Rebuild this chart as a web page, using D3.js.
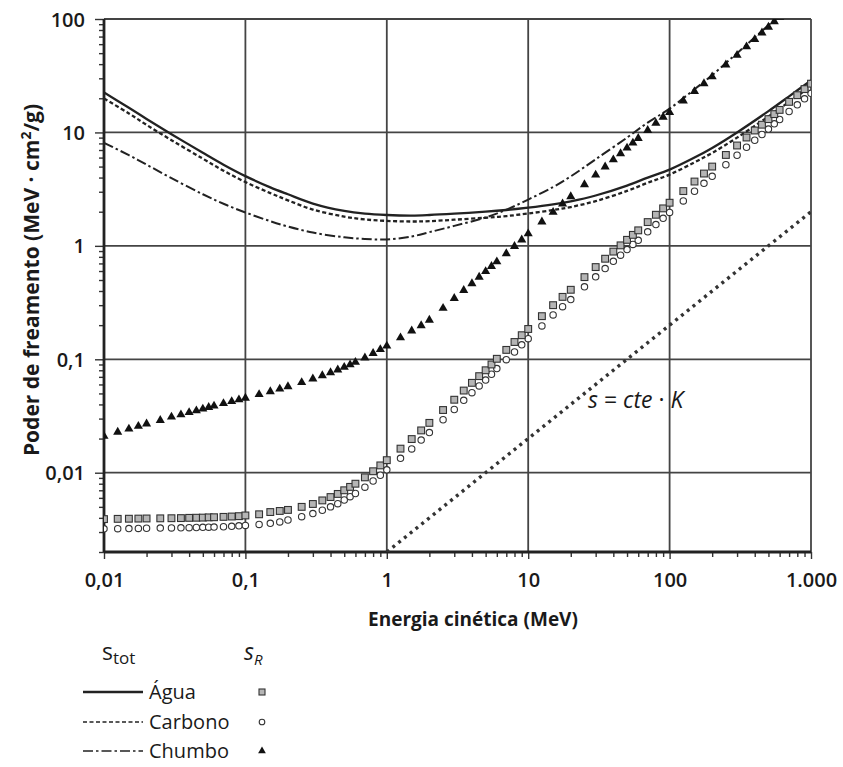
<!DOCTYPE html>
<html>
<head>
<meta charset="utf-8">
<script src="https://cdn.jsdelivr.net/npm/d3@7"></script>
<style>
  body { margin: 0; background: #fff; }
  svg { font-family: "Open Sans", "DejaVu Sans", sans-serif; }
  .tickLabel { font-size: 20px; font-weight: 600; fill: #1a1a1a; }
  .axisTitle { font-size: 19px; font-weight: 700; fill: #1a1a1a; }
  .legendText { font-size: 20px; fill: #1a1a1a; }
</style>
</head>
<body>
<div id="vis"><svg></svg></div>
<script>
// energy grid of the marker series (MeV)
const energies = [
  0.01, 0.0125, 0.015, 0.0175, 0.02, 0.025, 0.03, 0.035, 0.04, 0.045, 0.05, 0.055, 0.06, 0.07, 0.08, 0.09,
  0.1, 0.125, 0.15, 0.175, 0.2, 0.25, 0.3, 0.35, 0.4, 0.45, 0.5, 0.55, 0.6, 0.7, 0.8, 0.9,
  1, 1.25, 1.5, 1.75, 2, 2.5, 3, 3.5, 4, 4.5, 5, 5.5, 6, 7, 8, 9,
  10, 12.5, 15, 17.5, 20, 25, 30, 35, 40, 45, 50, 55, 60, 70, 80, 90,
  100, 125, 150, 175, 200, 250, 300, 350, 400, 450, 500, 550, 600, 700, 800, 900, 1000
];
// s_R (radiative) values
const waterRad = [
  0.00390, 0.00392, 0.00393, 0.00394, 0.00395, 0.00396, 0.00397, 0.00398, 0.00400, 0.00401, 0.00402, 0.00404, 0.00405, 0.00408, 0.00411, 0.00414,
  0.00420, 0.00430, 0.00450, 0.00460, 0.00470, 0.00500, 0.00530, 0.00570, 0.00610, 0.00650, 0.00700, 0.00750, 0.00800, 0.00910, 0.0103, 0.0116,
  0.0129, 0.0163, 0.0198, 0.0236, 0.0275, 0.0357, 0.0440, 0.0530, 0.0620, 0.0710, 0.0800, 0.0900, 0.101, 0.121, 0.142, 0.163,
  0.185, 0.240, 0.300, 0.355, 0.410, 0.530, 0.650, 0.770, 0.890, 1.01, 1.13, 1.25, 1.37, 1.62, 1.88, 2.14,
  2.40, 3.04, 3.69, 4.34, 5.00, 6.33, 7.67, 9.02, 10.4, 11.7, 13.1, 14.5, 15.8, 18.6, 21.3, 24.1, 26.9
];
const carbonRad = [
  0.00320, 0.00321, 0.00322, 0.00323, 0.00324, 0.00325, 0.00326, 0.00327, 0.00328, 0.00329, 0.00330, 0.00331, 0.00332, 0.00334, 0.00337, 0.00340,
  0.00343, 0.00350, 0.00358, 0.00368, 0.00383, 0.00410, 0.00436, 0.00467, 0.00500, 0.00533, 0.00575, 0.00615, 0.00656, 0.00746, 0.00845, 0.00950,
  0.0106, 0.0134, 0.0162, 0.0194, 0.0226, 0.0293, 0.0361, 0.0435, 0.0508, 0.0582, 0.0656, 0.0738, 0.0828, 0.0992, 0.116, 0.134,
  0.152, 0.197, 0.246, 0.291, 0.336, 0.435, 0.533, 0.631, 0.730, 0.828, 0.927, 1.03, 1.12, 1.33, 1.54, 1.75,
  1.97, 2.49, 3.03, 3.56, 4.10, 5.19, 6.29, 7.40, 8.53, 9.59, 10.7, 11.9, 13.0, 15.3, 17.5, 19.8, 22.1
];
const leadRad = [
  0.0210, 0.0228, 0.0243, 0.0257, 0.0270, 0.0290, 0.0310, 0.0325, 0.0340, 0.0352, 0.0365, 0.0377, 0.0388, 0.0408, 0.0425, 0.0440,
  0.0455, 0.0490, 0.0520, 0.0548, 0.0575, 0.0625, 0.0672, 0.0718, 0.0763, 0.0808, 0.0852, 0.0897, 0.0942, 0.103, 0.113, 0.122,
  0.131, 0.155, 0.178, 0.198, 0.222, 0.282, 0.345, 0.405, 0.465, 0.530, 0.595, 0.660, 0.725, 0.855, 0.990, 1.13,
  1.28, 1.63, 1.98, 2.35, 2.72, 3.47, 4.22, 4.98, 5.75, 6.52, 7.30, 8.08, 8.87, 10.45, 12.05, 13.65,
  15.0, 19.0, 23.0, 27.0, 31.0, 39.5, 48.0, 57.0, 66.0, 75.5, 85.0, 95.0, 104, 122, 140, 158, 176
];

// s_tot (total) curves
const lineEnergies = [0.01, 0.015, 0.02, 0.03, 0.05, 0.07, 0.1, 0.15, 0.2, 0.3, 0.5, 0.7, 1, 1.5, 2, 3, 5, 7,
  10, 15, 20, 30, 50, 70, 100, 150, 200, 300, 500, 700, 1000];
const waterTot = [22.5, 16.5, 13.15, 9.65, 6.62, 5.2, 4.12, 3.28, 2.85, 2.36, 2.03, 1.92, 1.87, 1.85, 1.87, 1.92, 2.00, 2.07,
  2.17, 2.32, 2.47, 2.78, 3.40, 4.00, 4.70, 6.00, 7.30, 10.0, 15.4, 20.8, 28.8];
const carbonTot = [19.9, 14.7, 11.65, 8.55, 5.87, 4.6, 3.65, 2.92, 2.52, 2.09, 1.81, 1.71, 1.66, 1.64, 1.65, 1.70, 1.77, 1.83,
  1.93, 2.07, 2.20, 2.48, 3.05, 3.60, 4.25, 5.45, 6.60, 9.00, 13.8, 18.6, 25.5];
const leadTot = [8.1, 6.3, 5.2, 3.95, 2.85, 2.35, 1.97, 1.65, 1.48, 1.31, 1.19, 1.15, 1.14, 1.21, 1.32, 1.50, 1.78, 2.08,
  2.56, 3.3, 4.1, 5.8, 9.0, 12.2, 16.2, 24.0, 32.0, 50.0, 88.0, 125, 180];

// s = cte · K reference line
const refEnergies = [1, 1000];
const refValues = [0.002, 2];

const xTicks = [0.01, 0.1, 1, 10, 100, 1000];
const xTickLabels = ["0,01", "0,1", "1", "10", "100", "1.000"];
const yTicks = [0.01, 0.1, 1, 10, 100];
const yTickLabels = ["0,01", "0,1", "1", "10", "100"];

const legendNames = ["Água", "Carbono", "Chumbo"];

var width = 843, height = 767;
var svg = d3.select("#vis").select("svg")
  .attr("width", width)
  .attr("height", height);

let x = d3.scaleLog().domain([0.01, 1000]).range([104, 811]);
let y = d3.scaleLog().domain([0.002, 100]).range([552, 19]);

const ink = "#222";

// minor ticks
let xMinor = [], yMinor = [];
[0.01, 0.1, 1, 10, 100].forEach(d => { for (let k = 2; k <= 9; k++) xMinor.push(d * k); });
[0.001, 0.01, 0.1, 1, 10].forEach(d => { for (let k = 2; k <= 9; k++) if (d * k >= 0.002) yMinor.push(d * k); });

// grid
svg.append("g").selectAll("line.vgrid")
  .data(xTicks).enter().append("line")
  .attr("x1", d => x(d)).attr("x2", d => x(d))
  .attr("y1", y(100)).attr("y2", y(0.002))
  .style("stroke", "#444").style("stroke-width", 1.8);
svg.append("g").selectAll("line.hgrid")
  .data(yTicks).enter().append("line")
  .attr("x1", x(0.01)).attr("x2", x(1000))
  .attr("y1", d => y(d)).attr("y2", d => y(d))
  .style("stroke", "#444").style("stroke-width", 1.8);

// axes
let xAxis = d3.axisBottom(x).tickValues(xTicks).tickSize(7).tickFormat((d, i) => xTickLabels[i]);
let xAxisMinor = d3.axisBottom(x).tickValues(xMinor).tickSize(5).tickFormat("");
let yAxis = d3.axisLeft(y).tickValues(yTicks).tickSize(9).tickFormat((d, i) => yTickLabels[i]);
let yAxisMinor = d3.axisLeft(y).tickValues(yMinor).tickSize(5).tickFormat("");

function styleAxis(g) {
  g.select(".domain").remove();
  g.attr("font-family", null).attr("font-size", null);
  g.selectAll(".tick line").style("stroke", "#333").style("stroke-width", 1.4);
}
svg.append("g").attr("transform", `translate(0,${y(0.002)})`).call(xAxisMinor).call(styleAxis);
svg.append("g").attr("transform", `translate(${x(0.01)},0)`).call(yAxisMinor).call(styleAxis);
let gx = svg.append("g").attr("transform", `translate(0,${y(0.002)})`).call(xAxis).call(styleAxis);
gx.selectAll("text").attr("class", "tickLabel").attr("y", 21).attr("dy", "0.71em");
let gy = svg.append("g").attr("transform", `translate(${x(0.01)},0)`).call(yAxis).call(styleAxis);
gy.selectAll("text").attr("class", "tickLabel").attr("x", -19).attr("dy", "0.35em");

// axis lines
svg.append("line").attr("x1", x(0.01)).attr("x2", x(1000)).attr("y1", y(0.002)).attr("y2", y(0.002))
  .style("stroke", "#222").style("stroke-width", 2.8);
svg.append("line").attr("x1", x(0.01)).attr("x2", x(0.01)).attr("y1", y(100)).attr("y2", y(0.002))
  .style("stroke", "#222").style("stroke-width", 2.8);

// clip
svg.append("clipPath").attr("id", "plotClip").append("rect")
  .attr("x", x(0.01)).attr("y", y(100))
  .attr("width", x(1000) - x(0.01)).attr("height", y(0.002) - y(100));

let plot = svg.append("g").attr("clip-path", "url(#plotClip)");

// total curves
let line = d3.line().x(d => x(d[0])).y(d => y(d[1])).curve(d3.curveCatmullRom.alpha(0.5));
const curves = [
  { vals: waterTot, dash: null, w: 2.3 },
  { vals: carbonTot, dash: "4,2.5", w: 2.3 },
  { vals: leadTot, dash: "10,3,2.5,3", w: 2.0 }
];
curves.forEach(c => {
  plot.append("path")
    .datum(lineEnergies.map((e, i) => [e, c.vals[i]]))
    .attr("d", line)
    .style("fill", "none")
    .style("stroke", ink)
    .style("stroke-width", c.w)
    .style("stroke-dasharray", c.dash);
});

// reference line s = cte · K
plot.append("path")
  .datum(refEnergies.map((e, i) => [e, refValues[i]]))
  .attr("d", d3.line().x(d => x(d[0])).y(d => y(d[1])))
  .style("fill", "none")
  .style("stroke", "#333")
  .style("stroke-width", 3.4)
  .style("stroke-dasharray", "3,4.4");

// markers
plot.selectAll("circle.carbon")
  .data(energies.map((e, i) => [e, carbonRad[i]]))
  .enter().append("circle")
  .attr("class", "carbon")
  .attr("cx", d => x(d[0])).attr("cy", d => y(d[1]))
  .attr("r", 3.2)
  .style("fill", "#fff").style("stroke", "#333").style("stroke-width", 1.1);

plot.selectAll("rect.water")
  .data(energies.map((e, i) => [e, waterRad[i]]))
  .enter().append("rect")
  .attr("class", "water")
  .attr("x", d => x(d[0]) - 3.4).attr("y", d => y(d[1]) - 3.4)
  .attr("width", 6.8).attr("height", 6.8)
  .style("fill", "#b5b5b5").style("stroke", "#333").style("stroke-width", 1.1);

let tri = d3.symbol().type(d3.symbolTriangle).size(36);
plot.selectAll("path.lead")
  .data(energies.map((e, i) => [e, leadRad[i]]))
  .enter().append("path")
  .attr("class", "lead")
  .attr("d", tri)
  .attr("transform", d => `translate(${x(d[0])},${y(d[1])})`)
  .style("fill", "#111");

// label of the reference line
let refLabel = svg.append("text")
  .attr("x", 588).attr("y", 408)
  .style("font-size", "23px").style("fill", "#1a1a1a");
refLabel.append("tspan").style("font-style", "italic").text("s");
refLabel.append("tspan").text(" = ");
refLabel.append("tspan").style("font-style", "italic").text("cte");
refLabel.append("tspan").text(" · ");
refLabel.append("tspan").style("font-style", "italic").text("K");

// axis titles
svg.append("text")
  .attr("class", "axisTitle")
  .attr("x", 473).attr("y", 626)
  .style("text-anchor", "middle")
  .text("Energia cinética (MeV)");

let yt = svg.append("text")
  .attr("class", "axisTitle")
  .attr("transform", "translate(39,280) rotate(-90)")
  .style("text-anchor", "middle")
  .style("font-size", "21px");
yt.append("tspan").text("Poder de freamento (MeV · cm");
yt.append("tspan").attr("dy", -8).style("font-size", "14px").text("2");
yt.append("tspan").attr("dy", 8).text("/g)");

// legend
let lg = svg.append("g");
let stot = lg.append("text").attr("class", "legendText").attr("x", 102).attr("y", 660);
stot.append("tspan").style("font-size", "23px").text("s");
stot.append("tspan").attr("dy", 4).style("font-size", "17px").text("tot");
let sr = lg.append("text").attr("class", "legendText").attr("x", 244).attr("y", 660);
sr.append("tspan").style("font-style", "italic").style("font-size", "23px").text("s");
sr.append("tspan").attr("dy", 5).style("font-style", "italic").style("font-size", "15px").text("R");

const legendY = [692, 722, 751];
lg.selectAll("line.leg")
  .data(curves).enter().append("line")
  .attr("x1", 83).attr("x2", 143)
  .attr("y1", (d, i) => legendY[i]).attr("y2", (d, i) => legendY[i])
  .style("stroke", ink)
  .style("stroke-width", (d, i) => i == 0 ? 2.3 : 1.7)
  .style("stroke-dasharray", d => d.dash);
lg.selectAll("text.legName")
  .data(legendNames).enter().append("text")
  .attr("class", "legendText")
  .attr("x", 149)
  .attr("y", (d, i) => legendY[i] + 7)
  .text(d => d);
lg.append("rect").attr("x", 259).attr("y", legendY[0] - 3).attr("width", 6).attr("height", 6)
  .style("fill", "#b5b5b5").style("stroke", "#333").style("stroke-width", 1.1);
lg.append("circle").attr("cx", 262).attr("cy", legendY[1]).attr("r", 2.8)
  .style("fill", "#fff").style("stroke", "#333").style("stroke-width", 1.1);
lg.append("path").attr("d", d3.symbol().type(d3.symbolTriangle).size(26))
  .attr("transform", `translate(262,${legendY[2]})`).style("fill", "#111");
</script>
</body>
</html>
